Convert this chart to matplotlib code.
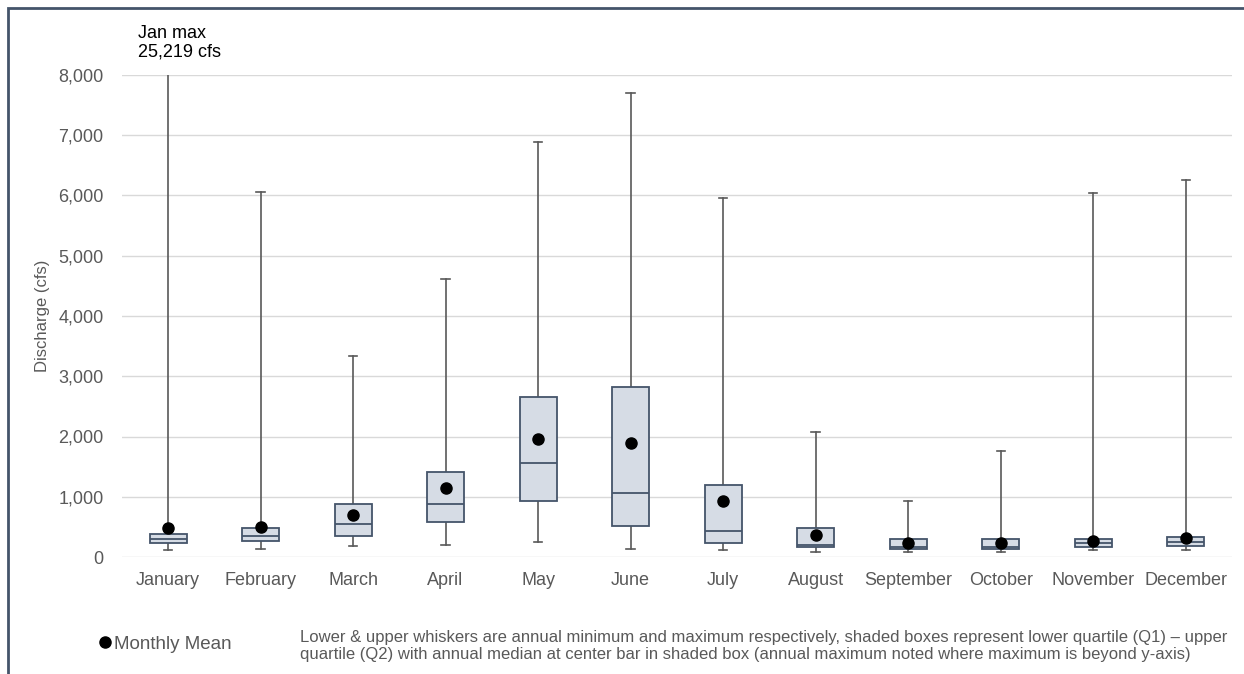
import matplotlib
matplotlib.use('Agg')
import matplotlib.pyplot as plt
from matplotlib.patches import Rectangle
from matplotlib.ticker import FuncFormatter

plt.rcParams['font.family'] = ['Liberation Sans', 'DejaVu Sans']

months = ['January', 'February', 'March', 'April', 'May', 'June', 'July',
          'August', 'September', 'October', 'November', 'December']
# annual min, Q1, median, Q3, annual max, monthly mean (cfs)
q_min = [116, 138, 183, 204, 244, 133, 111, 78, 83, 83, 121, 111]
q1 = [227, 260, 354, 586, 934, 510, 237, 161, 133, 138, 166, 177]
q_med = [304, 349, 543, 875, 1560, 1057, 437, 194, 161, 171, 232, 244]
q3 = [390, 481, 880, 1406, 2656, 2822, 1195, 476, 304, 294, 294, 327]
q_max = [25219, 6050, 3340, 4619, 6893, 7707, 5964, 2070, 935, 1759, 6041, 6252]
q_mean = [486, 493, 692, 1145, 1958, 1892, 929, 370, 232, 227, 271, 310]

W, H = 1244, 674
fig = plt.figure(figsize=(W / 100, H / 100), dpi=100)
ax = fig.add_axes([121.75 / W, 1 - 557 / H, 1110.25 / W, 482 / H])

stats = []
for i, m in enumerate(months):
    stats.append(dict(label=m, whislo=q_min[i], q1=q1[i], med=q_med[i],
                      q3=q3[i], whishi=q_max[i], mean=q_mean[i], fliers=[]))

edge = '#44546A'
wcol = '#595959'
res = ax.bxp(stats, positions=range(len(months)), widths=0.4, capwidths=0.09,
             patch_artist=True, showmeans=True,
             boxprops=dict(facecolor='#D6DCE5', edgecolor=edge, linewidth=1.3),
             medianprops=dict(color=edge, linewidth=1.3),
             whiskerprops=dict(color=wcol, linewidth=1.2),
             capprops=dict(color=wcol, linewidth=1.2),
             meanprops=dict(marker='o', markerfacecolor='black',
                            markeredgecolor='black', markersize=8))
for b in res['boxes']:
    b.set_zorder(3)
for m in res['medians']:
    m.set_zorder(4)
for m in res['means']:
    m.set_zorder(5)

ax.set_xlim(-0.5, len(months) - 0.5)
ax.set_ylim(0, 8000)
ax.set_yticks(range(0, 8001, 1000))
ax.yaxis.set_major_formatter(FuncFormatter(lambda v, p: f'{int(v):,}'))
ax.grid(axis='y', color='#D9D9D9', linewidth=1)
ax.set_axisbelow(True)
for s in ax.spines.values():
    s.set_visible(False)
ax.tick_params(length=0, labelsize=13, labelcolor='#595959')
ax.tick_params(axis='x', pad=11)
ax.tick_params(axis='y', pad=13)
ax.set_ylabel('Discharge (cfs)', fontsize=12, color='#595959', labelpad=6)

fig.text(138 / W, 1 - 25 / H, f'Jan max\n{q_max[0]:,} cfs',
         fontsize=13, color='black', ha='left', va='top', linespacing=1.1)

fig.legend(handles=[res['means'][0]], labels=['Monthly Mean'],
           loc='center left', bbox_to_anchor=(99 / W, 1 - 644 / H),
           frameon=False, handlelength=0.6, handletextpad=0.2,
           borderpad=0, borderaxespad=0, fontsize=13.5, labelcolor='#595959')

fig.text(300 / W, 1 - 646 / H,
         'Lower & upper whiskers are annual minimum and maximum respectively, '
         'shaded boxes represent lower quartile (Q1) \u2013 upper\n'
         'quartile (Q2) with annual median at center bar in shaded box '
         '(annual maximum noted where maximum is beyond y-axis)',
         fontsize=12, color='#595959', ha='left', va='center',
         linespacing=1.1)

fig.patches.append(Rectangle((8 / W, -0.1), 1.2, 1.1 - 8.5 / H,
                             transform=fig.transFigure, fill=False,
                             edgecolor=edge, linewidth=2))

fig.savefig('out.png', dpi=100)
